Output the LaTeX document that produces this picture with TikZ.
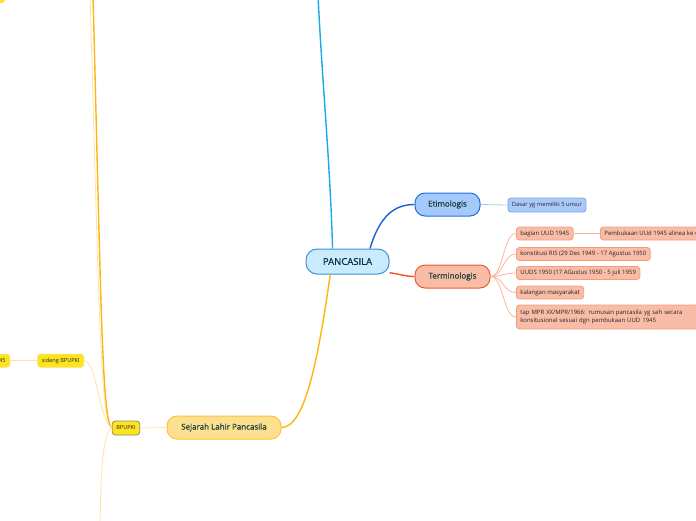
\documentclass[tikz,border=0pt]{standalone}
\usepackage{fontspec}
\setmainfont{Open Sans}
\newfontfamily\topicfont[FakeBold=0.6]{Open Sans}
\usepackage{xcolor}
\usepackage{tikz}
\definecolor{rootfill}{HTML}{C9EBFB}
\definecolor{rootline}{HTML}{3B92D3}
\definecolor{roottext}{HTML}{0F2B4B}
\definecolor{etifill}{HTML}{A5C9FA}
\definecolor{etiline}{HTML}{1F6FDE}
\definecolor{etisubfill}{HTML}{A9CAF8}
\definecolor{etisubline}{HTML}{78A6EF}
\definecolor{termfill}{HTML}{F8BCA7}
\definecolor{termline}{HTML}{F0592B}
\definecolor{subterm}{HTML}{F59C7E}
\definecolor{sejfill}{HTML}{FDDF90}
\definecolor{sejline}{HTML}{FDC23C}
\definecolor{kuning}{HTML}{FDE51E}
\definecolor{kuningline}{HTML}{FDDC5A}
\definecolor{topictext}{HTML}{173F3A}
\definecolor{darktext}{HTML}{262626}
\definecolor{skyline}{HTML}{1FA5EA}
\definecolor{etilink}{HTML}{1A5FD5}
\definecolor{termlink}{HTML}{EF5528}
\definecolor{sejlink}{HTML}{FDB416}
\definecolor{etisub}{HTML}{AAC8F4}
\definecolor{termsub}{HTML}{FBB39A}
\definecolor{sejsub}{HTML}{FEE3A2}

\begin{document}
\begin{tikzpicture}[x=1pt,y=-1pt,
    topic/.style={draw,line width=1pt,rounded corners=10pt,inner sep=0pt,
                  font=\topicfont\fontsize{8}{10}\selectfont,text=topictext},
    sub/.style={draw,line width=0.8pt,rounded corners=3pt,inner xsep=4pt,inner ysep=0pt,
                minimum height=13pt,font=\fontsize{6}{7.4}\selectfont,text=darktext},
    termbox/.style={sub,draw=subterm,fill=termfill,anchor=west},
    kuningbox/.style={sub,draw=kuningline,fill=kuning},
    link/.style={line width=1.4pt},
    twig/.style={line width=0.8pt}
  ]
  \useasboundingbox (0,0) rectangle (696,520);
  \clip (0,0) rectangle (696,520);

  \node[topic,draw=rootline,fill=rootfill,text=roottext,minimum width=83pt,minimum height=25pt,
        rounded corners=11pt,font=\topicfont\fontsize{9.5}{11}\selectfont] (PANCASILA) at (347.5,261.5) {PANCASILA};
  \node[topic,draw=etiline,fill=etifill,minimum width=65pt,minimum height=23pt] (Etim) at (447.5,204.5) {Etimologis};
  \node[topic,draw=termline,fill=termfill,minimum width=75pt,minimum height=23pt] (Term) at (452.5,276.5) {Terminologis};
  \node[topic,draw=sejline,fill=sejfill,minimum width=114pt,minimum height=23pt] (Sejarah) at (224,427.5) {Sejarah Lahir Pancasila};

  \node[sub,draw=etisubline,fill=etisubfill,minimum height=14pt,font=\fontsize{5.8}{7}\selectfont] (Dasar) at (547,205) {Dasar yg memiliki 5 unsur};
  \node[termbox] (Bagian) at (516,233.5) {bagian UUD 1945};
  \node[termbox] (Pembukaan) at (600,233.5) {Pembukaan UUd 1945 alinea ke 4};
  \node[termbox] (RIS) at (516,254) {konstitusi RIS (29 Des 1949 - 17 Agustus 1950};
  \node[termbox] (UUDS) at (516,273) {UUDS 1950 (17 AGustus 1950 - 5 juli 1959};
  \node[termbox] (Kalangan) at (516,292.5) {kalangan masyarakat};
  \node[termbox,minimum height=24pt,text width=190pt,align=left] (TapMPR) at (516,317)
    {tap MPR XX/MPR/1966: rumusan pancasila yg sah secara\\konsitusional sesuai dgn pembukaan UUD 1945};

  \node[kuningbox,draw=gray!70!olive,minimum height=14pt,font=\fontsize{5.6}{7}\selectfont] (BPUPKI) at (126,428) {BPUPKI};
  \node[kuningbox,font=\fontsize{5.6}{7}\selectfont] (Sidang) at (60.7,360.7) {sidang BPUPKI};
  \node[kuningbox,anchor=east,font=\fontsize{5.6}{7}\selectfont] (Sidang45) at (10,360.7) {45};
  \node[kuningbox,anchor=south east,minimum width=40pt] (TopKuning) at (5,3) {};

  \coordinate (SkyEnd) at (318,-5);
  \coordinate (OrangeEnd) at (93,-5);
  \coordinate (TwigUp) at (90,-5);
  \coordinate (TwigDown) at (100,525);

  % main branches
  \draw[link,skyline] (PANCASILA.139) .. controls (330,160) and (322,80) .. (SkyEnd);
  \draw[link,etilink] (PANCASILA.30) .. controls (380,215) and (395,204.5) .. (Etim.west);
  \draw[link,termlink] (PANCASILA.-15) .. controls (400,274) and (405,276.5) .. (Term.west);
  \draw[link,sejlink] (PANCASILA.-143) .. controls (318,360) and (305,427.5) .. (Sejarah.east);

  % sub branches
  \draw[twig,etisub] (Etim.east) -- (Dasar.west);
  \foreach \kid in {Bagian,RIS,UUDS,Kalangan,TapMPR}
    \draw[twig,termsub] (Term.east) .. controls ([xshift=13pt]Term.east) and ([xshift=-13pt]\kid.west) .. (\kid.west);
  \draw[twig,termsub] (Bagian.east) -- (Pembukaan.west);

  \draw[twig,sejsub] (BPUPKI.west) .. controls (100,422) and (99,300) .. (TwigUp);
  \draw[link,sejlink] (BPUPKI.west) .. controls (102,422) and (101,300) .. (OrangeEnd);
  \draw[twig,sejsub] (Sejarah.west) -- (BPUPKI.east);
  \draw[twig,sejsub] (Sidang.east) .. controls (97,362) and (99,420) .. (BPUPKI.west);
  \draw[twig,sejsub] (BPUPKI.west) .. controls (103,432) and (101,470) .. (TwigDown);
  \draw[twig,sejsub] (Sidang.west) -- (Sidang45.east);
\end{tikzpicture}
\end{document}
